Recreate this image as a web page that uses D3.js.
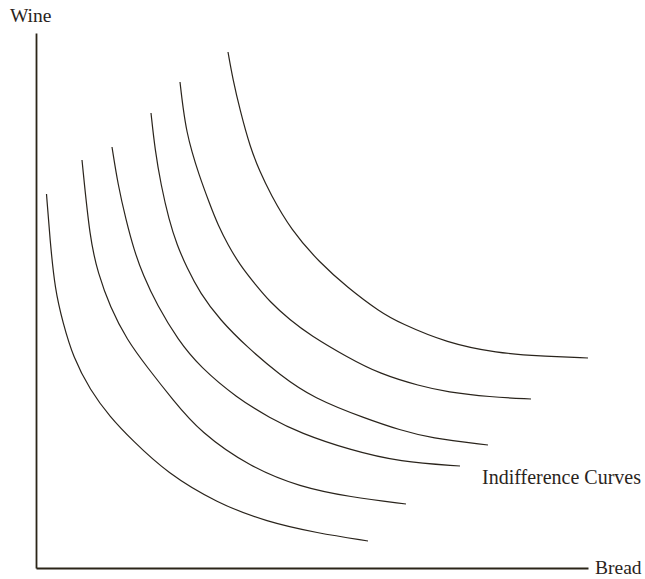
<!DOCTYPE html>
<html>
<head>
<meta charset="utf-8">
<script src="https://cdn.jsdelivr.net/npm/d3@7"></script>
<style>
  body { margin: 0; background: #fff; }
  text { font-family: "Liberation Serif", "DejaVu Serif", serif; fill: #2a241c; }
</style>
</head>
<body>
<div id="chart"></div>
<script>
const width = 645;
const height = 579;

// quantities of bread (x) and wine (y) along each indifference curve, innermost first
const curveA = [[10.5,374],[14,328],[19,278],[27,245],[37,211],[54,178],[74,151],[96,128],[131,95],[181,65],[231,46],[281,35],[332,27]];
const curveB = [[46,408],[54,328],[62,295],[74,261],[91,228],[111,201],[137,168],[164,136],[214,101],[264,81],[314,71],[370,64]];
const curveC = [[76,421],[82,383],[90,348],[98,318],[107,293],[121,263],[142,228],[164,201],[201,170],[234,150],[264,135],[314,118],[364,106],[424,102]];
const curveD = [[115,455],[119,418],[125,383],[133,348],[141,323],[151,300],[164,275],[184,248],[211,221],[244,193],[277,170],[331,149],[364,138],[394,130],[452,123]];
const curveE = [[144,486],[147,460],[151,435],[156,416],[162,396],[174,363],[182,343],[192,323],[204,303],[219,284],[234,266],[254,248],[274,233],[311,211],[344,194],[384,182],[411,176],[454,171],[495,169]];
const curveF = [[192,516],[197,488],[204,458],[214,421],[224,396],[234,375],[255,338],[284,305],[311,281],[344,256],[364,245],[411,225],[461,215],[504,212],[552,210]];
const curves = [curveA, curveB, curveC, curveD, curveE, curveF];

const xLabel = "Bread";
const yLabel = "Wine";
const curveLabel = "Indifference Curves";

const margin = {top: 33, right: 57, bottom: 11, left: 36};

const x = d3.scaleLinear()
    .domain([0, 552])
    .range([margin.left, width - margin.right]);

const y = d3.scaleLinear()
    .domain([0, 535])
    .range([height - margin.bottom, margin.top]);

const svg = d3.select("#chart").append("svg")
    .attr("width", width)
    .attr("height", height);

// axes: plain lines, no ticks
svg.append("g")
    .attr("transform", `translate(0,${y(0)})`)
    .call(d3.axisBottom(x).ticks(0).tickSizeOuter(0));
svg.append("g")
    .attr("transform", `translate(${x(0)},0)`)
    .call(d3.axisLeft(y).ticks(0).tickSizeOuter(0));
svg.selectAll(".domain")
    .attr("stroke", "#2b2518")
    .attr("stroke-width", 1.8);

// basis spline smooths out small reading errors in the points
const line = d3.line()
    .x(d => x(d[0]))
    .y(d => y(d[1]))
    .curve(d3.curveBasis);

svg.append("g")
    .selectAll("path")
    .data(curves)
    .join("path")
    .attr("d", line)
    .attr("fill", "none")
    .attr("stroke", "#2a241c")
    .attr("stroke-width", 1.2);

svg.append("text")
    .attr("x", 10)
    .attr("y", 22)
    .style("font-size", "19.5px")
    .text(yLabel);

svg.append("text")
    .attr("x", 595)
    .attr("y", 574)
    .style("font-size", "19.5px")
    .text(xLabel);

svg.append("text")
    .attr("x", 482)
    .attr("y", 484)
    .style("font-size", "20px")
    .text(curveLabel);
</script>
</body>
</html>
